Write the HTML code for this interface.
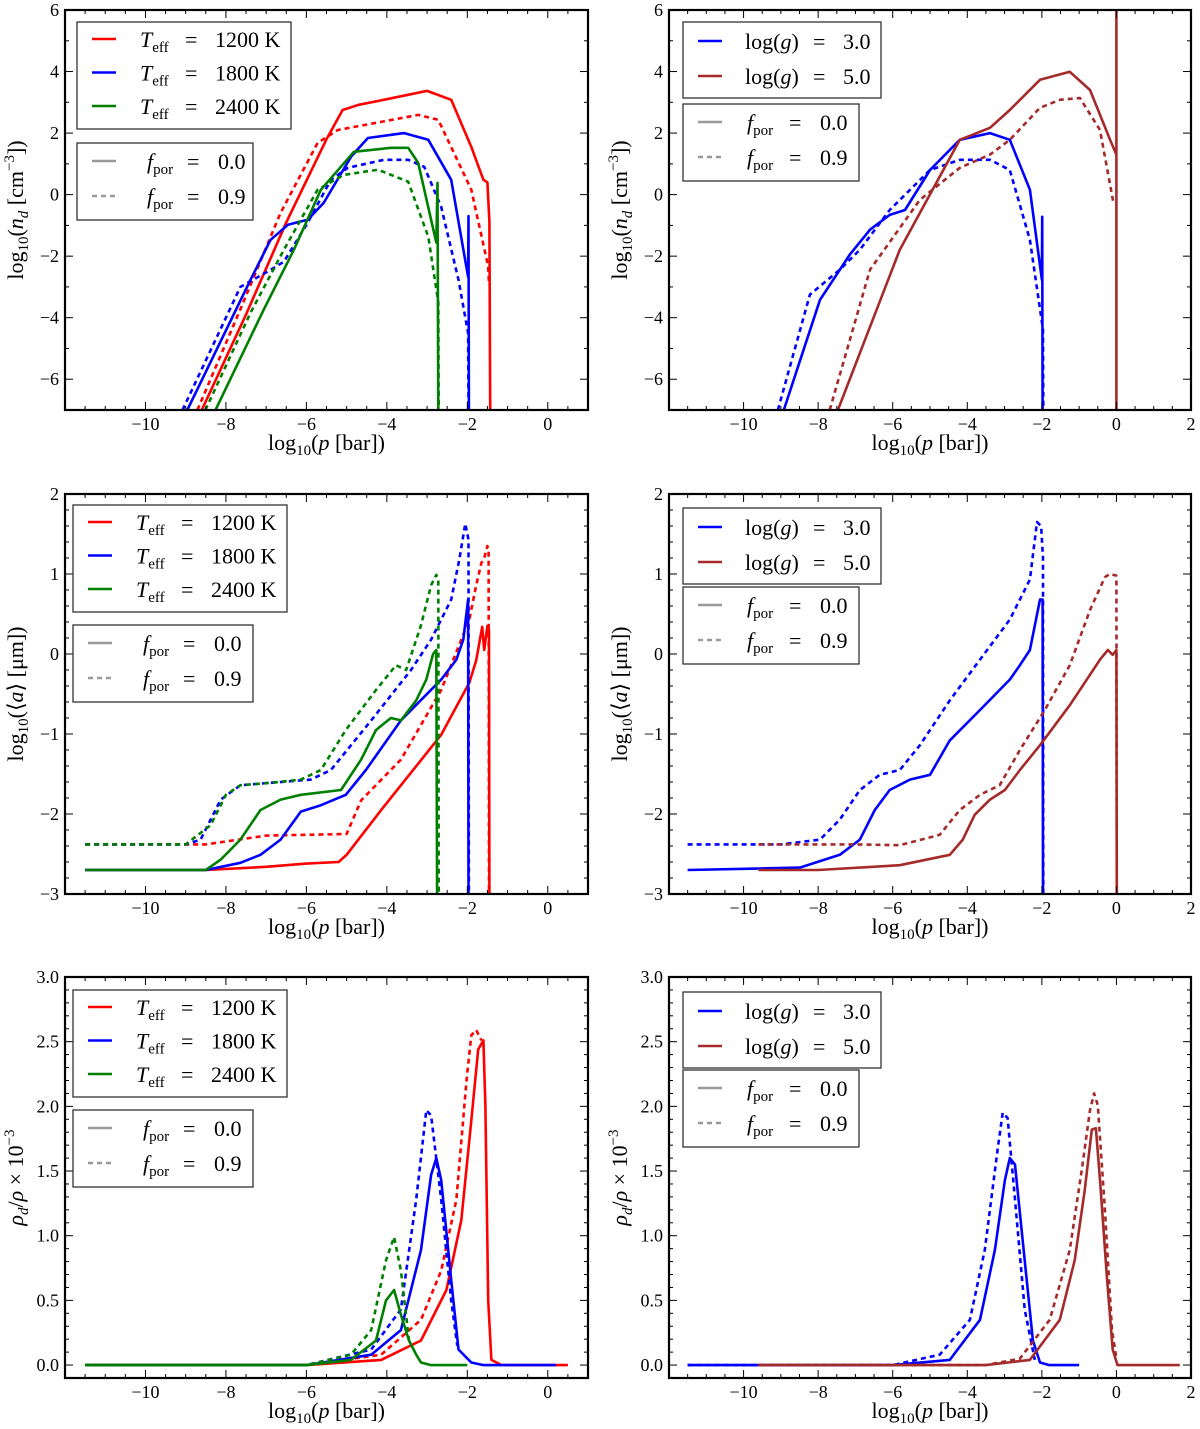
<!DOCTYPE html>
<html><head><meta charset="utf-8"><style>
html,body{margin:0;padding:0;background:#fff}
svg{display:block;font-family:"Liberation Serif","DejaVu Serif",serif}
</style></head><body>
<svg id="fig" width="1200" height="1429" viewBox="0 0 1200 1429" xmlns="http://www.w3.org/2000/svg"></svg>
<script>
// ---------- DATA (log10 p [bar], value) ----------
const ndT1200Solid=[[-8.6,-7],[-7.5,-3.9],[-6.5,-0.9],[-5.5,1.8],[-5.1,2.75],[-4.7,2.92],[-4,3.1],[-3,3.37],[-2.4,3.08],[-1.9,1.55],[-1.6,0.48],[-1.5,0.4],[-1.45,-0.88],[-1.43,-7]];
const ndT1200Dash=[[-8.71,-7],[-7.6,-3.6],[-6.64,-0.59],[-5.72,1.68],[-5.22,2.1],[-4.2,2.35],[-3.22,2.59],[-2.72,2.43],[-1.9,0.16],[-1.48,-2.34],[-1.46,-2.9]];
const ndT1800Solid=[[-8.96,-7],[-7.39,-2.77],[-6.89,-1.47],[-6.46,-0.98],[-5.97,-0.82],[-5.57,-0.27],[-4.89,1.23],[-4.47,1.84],[-3.57,2.0],[-2.97,1.78],[-2.4,0.48],[-1.98,-2.67],[-1.97,-0.7],[-1.96,-7]];
const ndT1800Dash=[[-9.08,-7],[-7.64,-3.0],[-6.96,-2.5],[-6.56,-2.18],[-5.97,-0.92],[-5.39,0.48],[-4.97,0.87],[-4.07,1.13],[-3.47,1.13],[-3.07,0.9],[-2.65,-0.4],[-2.22,-2.77],[-1.98,-4.5],[-1.97,-7]];
const ndT2400Solid=[[-8.26,-7],[-7.06,-3.74],[-6.31,-1.79],[-5.64,0.16],[-4.82,1.39],[-3.9,1.52],[-3.47,1.52],[-3.22,1.03],[-2.77,-1.56],[-2.74,0.38],[-2.72,-7]];
const ndT2400Dash=[[-8.51,-7],[-7.39,-3.84],[-6.56,-1.79],[-5.72,0.16],[-5.07,0.64],[-4.22,0.81],[-3.47,0.42],[-2.97,-1.37],[-2.72,-3.5],[-2.71,-7]];
const ndG3Solid=[[-8.92,-7],[-7.95,-3.42],[-7.15,-1.95],[-6.61,-1.14],[-6.08,-0.66],[-5.67,-0.5],[-5.0,0.8],[-4.2,1.78],[-3.39,2.0],[-2.86,1.78],[-2.32,0.16],[-2.0,-2.77],[-1.99,-0.72],[-1.98,-7]];
const ndG3Dash=[[-9.08,-7],[-8.22,-3.25],[-7.42,-2.44],[-6.88,-1.79],[-6.08,-0.5],[-5.0,0.8],[-4.2,1.13],[-3.39,1.13],[-2.86,0.8],[-2.32,-1.47],[-1.97,-4.39],[-1.96,-7]];
const ndG5Solid=[[-7.47,-7],[-5.81,-1.79],[-4.2,1.78],[-3.39,2.17],[-2.86,2.75],[-2.05,3.73],[-1.25,3.99],[-0.71,3.4],[-0.17,1.78],[0,1.3],[0,6],[0,-7]];
const ndG5Dash=[[-7.69,-7],[-6.61,-2.44],[-5.27,-0.17],[-4.2,0.87],[-3.39,1.3],[-2.86,1.78],[-2.05,2.82],[-1.52,3.08],[-0.98,3.14],[-0.44,2.1],[-0.07,-0.33]];
const aT1200Solid=[[-11.5,-2.7],[-8.5,-2.7],[-7,-2.66],[-6,-2.62],[-5.2,-2.6],[-5.0,-2.51],[-4.14,-1.95],[-2.65,-1.01],[-1.95,-0.36],[-1.78,-0.08],[-1.63,0.34],[-1.58,0.05],[-1.5,0.35],[-1.46,0.3],[-1.45,-3]];
const aT1200Dash=[[-11.5,-2.38],[-8.5,-2.38],[-7,-2.27],[-5.0,-2.25],[-4.64,-1.83],[-3.65,-1.32],[-2.65,-0.45],[-1.95,0.43],[-1.78,0.86],[-1.65,1.14],[-1.58,1.2],[-1.5,1.35],[-1.47,1.3],[-1.46,-3]];
const aT1800Solid=[[-11.5,-2.7],[-8.5,-2.7],[-7.64,-2.61],[-7.14,-2.51],[-6.64,-2.32],[-6.14,-1.97],[-5.64,-1.89],[-5.02,-1.76],[-4.52,-1.45],[-3.65,-0.83],[-2.65,-0.32],[-2.27,-0.07],[-2.1,0.18],[-1.98,0.68],[-1.97,-3]];
const aT1800Dash=[[-11.5,-2.38],[-9,-2.38],[-8.63,-2.32],[-8.13,-1.82],[-7.64,-1.64],[-6.89,-1.61],[-5.89,-1.57],[-5.39,-1.45],[-4.39,-0.83],[-3.4,-0.2],[-2.9,0.18],[-2.4,0.68],[-2.2,1.18],[-2.05,1.63],[-1.97,1.43],[-1.96,-3]];
const aT2400Solid=[[-11.5,-2.7],[-8.5,-2.7],[-8.13,-2.57],[-7.64,-2.32],[-7.14,-1.95],[-6.64,-1.82],[-6.14,-1.76],[-5.14,-1.7],[-4.64,-1.32],[-4.27,-0.95],[-3.9,-0.8],[-3.65,-0.83],[-3.27,-0.58],[-3.02,-0.32],[-2.85,0],[-2.77,0.05],[-2.75,-3]];
const aT2400Dash=[[-11.5,-2.38],[-9,-2.38],[-8.38,-2.14],[-8.0,-1.76],[-7.64,-1.64],[-6.89,-1.61],[-6.14,-1.57],[-5.64,-1.45],[-5.02,-0.95],[-4.27,-0.45],[-3.77,-0.14],[-3.52,-0.2],[-3.15,0.36],[-2.9,0.86],[-2.77,0.99],[-2.72,0.92],[-2.71,-3]];
const aG3Solid=[[-11.5,-2.7],[-8.49,-2.67],[-7.42,-2.51],[-6.88,-2.32],[-6.48,-1.95],[-6.08,-1.7],[-5.54,-1.57],[-5.0,-1.51],[-4.47,-1.08],[-3.66,-0.7],[-2.86,-0.32],[-2.59,-0.14],[-2.32,0.05],[-2.05,0.68],[-1.98,0.68],[-1.97,-3]];
const aG3Dash=[[-11.5,-2.38],[-9,-2.38],[-7.95,-2.32],[-7.42,-2.07],[-6.88,-1.7],[-6.35,-1.51],[-5.81,-1.45],[-5.27,-1.14],[-4.47,-0.58],[-3.66,-0.07],[-2.86,0.43],[-2.32,0.93],[-2.13,1.65],[-2.02,1.6],[-1.97,1.2],[-1.96,-3]];
const aG5Solid=[[-9.6,-2.7],[-8,-2.7],[-5.81,-2.64],[-4.47,-2.51],[-4.12,-2.32],[-3.8,-2.01],[-3.39,-1.82],[-2.99,-1.7],[-2.59,-1.45],[-2.05,-1.14],[-1.25,-0.64],[-0.44,-0.07],[-0.23,0.05],[-0.1,-0.01],[0,0.05],[0.01,-3]];
const aG5Dash=[[-9.6,-2.38],[-7,-2.38],[-5.81,-2.39],[-4.74,-2.26],[-4.2,-1.95],[-3.66,-1.76],[-3.13,-1.64],[-2.59,-1.2],[-1.92,-0.7],[-1.25,-0.14],[-0.71,0.55],[-0.31,0.96],[-0.18,1.0],[0,0.98],[0.01,-3]];
const rT1200Solid=[[-11.5,0],[-6,0],[-4.14,0.04],[-3.15,0.19],[-2.52,0.58],[-2.15,1.12],[-1.9,1.89],[-1.73,2.44],[-1.6,2.51],[-1.55,2.0],[-1.48,0.5],[-1.4,0.04],[-1.15,0],[0.5,0]];
const rT1200Dash=[[-11.5,0],[-6,0],[-4.14,0.08],[-3.15,0.35],[-2.65,0.73],[-2.27,1.28],[-2.02,2.2],[-1.9,2.55],[-1.78,2.59],[-1.65,2.51]];
const rT1800Solid=[[-11.5,0],[-6,0],[-4.39,0.08],[-3.65,0.27],[-3.15,0.89],[-2.9,1.47],[-2.77,1.6],[-2.65,1.43],[-2.4,0.66],[-2.22,0.12],[-1.9,0.02],[-1.6,0],[0.2,0]];
const rT1800Dash=[[-11.5,0],[-6,0],[-4.39,0.12],[-3.65,0.43],[-3.27,1.28],[-3.02,1.97],[-2.9,1.93],[-2.65,1.28],[-2.4,0.5],[-2.25,0.15]];
const rT2400Solid=[[-11.5,0],[-6,0],[-4.89,0.04],[-4.27,0.19],[-4.02,0.5],[-3.82,0.58],[-3.65,0.39],[-3.45,0.19],[-3.27,0.08],[-3.15,0.02],[-2.9,0],[-2,0]];
const rT2400Dash=[[-11.5,0],[-6,0],[-4.89,0.08],[-4.39,0.27],[-4.02,0.81],[-3.82,0.99],[-3.65,0.73],[-3.45,0.19]];
const rG3Solid=[[-11.5,0],[-6,0],[-4.47,0.04],[-3.66,0.35],[-3.26,0.89],[-2.99,1.43],[-2.86,1.6],[-2.72,1.55],[-2.46,0.81],[-2.24,0.19],[-2.05,0.02],[-1.8,0],[-1,0]];
const rG3Dash=[[-11.5,0],[-6,0],[-4.74,0.08],[-3.93,0.35],[-3.53,0.89],[-3.19,1.66],[-3.05,1.95],[-2.92,1.91],[-2.72,1.28],[-2.46,0.43],[-2.19,0.04]];
const rG5Solid=[[-9.6,0],[-3.5,0],[-2.32,0.04],[-1.52,0.35],[-1.12,0.81],[-0.85,1.35],[-0.66,1.82],[-0.55,1.83],[-0.44,1.43],[-0.25,0.66],[-0.1,0.12],[0.03,0],[1.7,0]];
const rG5Dash=[[-9.6,0],[-3.5,0],[-2.59,0.05],[-1.79,0.35],[-1.25,0.89],[-0.93,1.51],[-0.71,1.97],[-0.6,2.1],[-0.5,2.01],[-0.31,1.2],[-0.12,0.27],[0,0.05]];
const xTicksLeft=[-10,-8,-6,-4,-2,0];
const xTicksRight=[-10,-8,-6,-4,-2,0,2];
const yTicksNd=[-6,-4,-2,0,2,4,6];
const yTicksA=[-3,-2,-1,0,1,2];
const yTicksR=[0.0,0.5,1.0,1.5,2.0,2.5,3.0];
const tempLabels=["1200 K","1800 K","2400 K"];
const gravLabels=["3.0","5.0"];
const porLabels=["0.0","0.9"];

// ---------- DRAWING ----------
const NS="http://www.w3.org/2000/svg";
const svg=document.getElementById('fig');
function mk(tag,attrs,parent){const e=document.createElementNS(NS,tag);for(const k in attrs)e.setAttribute(k,attrs[k]);(parent||svg).appendChild(e);return e;}
const RED="#ff0000",BLUE="#0000ff",GREEN="#008000",BROWN="#a52a2a",GREY="#999999";
function fmt(v){return (v<0?"\u2212":"")+String(Math.abs(v));}

function panel(cfg){
  const g=mk('g',{});
  
  
  const X=v=>cfg.x0+(v-cfg.xmin)/(cfg.xmax-cfg.xmin)*(cfg.x1-cfg.x0);
  const Y=v=>cfg.y1-(v-cfg.ymin)/(cfg.ymax-cfg.ymin)*(cfg.y1-cfg.y0);
  const clip='clip-'+cfg.name;
  const cp=mk('clipPath',{id:clip},g);mk('rect',{x:cfg.x0,y:cfg.y0,width:cfg.x1-cfg.x0,height:cfg.y1-cfg.y0},cp);
  const sg=mk('g',{'clip-path':'url(#'+clip+')'},g);
  cfg.series.forEach(s=>{
    const d=s.data.map((p,i)=>(i?'L':'M')+X(p[0]).toFixed(1)+' '+Y(p[1]).toFixed(1)).join(' ');
    const p=mk('path',{d:d,fill:'none',stroke:s.color,'stroke-width':2.6,'stroke-linejoin':'round'},sg);
    if(s.dash)p.setAttribute('stroke-dasharray','5,4');
    
    
  });
  const tg=mk('g',{stroke:'#000','stroke-width':1},g);
  
  
  for(let v=Math.ceil(cfg.xmin/cfg.xminor)*cfg.xminor;v<=cfg.xmax+1e-9;v+=cfg.xminor){
    const major=Math.abs(v/cfg.xmajor-Math.round(v/cfg.xmajor))<1e-6;const L=major?8:4;const x=X(v);
    mk('line',{x1:x,x2:x,y1:cfg.y1,y2:cfg.y1-L},tg);mk('line',{x1:x,x2:x,y1:cfg.y0,y2:cfg.y0+L},tg);
  }
  for(let v=cfg.ymin;v<=cfg.ymax+1e-9;v+=cfg.yminor){
    const major=Math.abs(v/cfg.ymajor-Math.round(v/cfg.ymajor))<1e-6;const L=major?8:4;const y=Y(v);
    mk('line',{x1:cfg.x0,x2:cfg.x0+L,y1:y,y2:y},tg);mk('line',{x1:cfg.x1,x2:cfg.x1-L,y1:y,y2:y},tg);
  }
  const fr=mk('rect',{x:cfg.x0,y:cfg.y0,width:cfg.x1-cfg.x0,height:cfg.y1-cfg.y0,fill:'none',stroke:'#000','stroke-width':2.2},g);
  
  
  cfg.xticks.forEach(v=>{
    const t=mk('text',{x:X(v),y:cfg.y1+20,'font-size':18,'text-anchor':'middle'},g);t.textContent=fmt(v);
    
    
  });
  cfg.yticks.forEach(v=>{
    const t=mk('text',{x:cfg.x0-6,y:Y(v)+6,'font-size':18,'text-anchor':'end'},g);t.textContent=cfg.yfmt(v);
    
    
  });
  const xl=mk('text',{x:(cfg.x0+cfg.x1)/2,y:cfg.y1+40,'font-size':22,'text-anchor':'middle'},g);
  xl.innerHTML='log<tspan font-size="15" dy="5">10</tspan><tspan dy="-5">(</tspan><tspan font-style="italic">p</tspan> [bar])';
  
  
  const yl=mk('text',{x:0,y:0,'font-size':22,'text-anchor':'middle',transform:'translate('+(cfg.x0-42)+','+((cfg.y0+cfg.y1)/2)+') rotate(-90)'},g);
  yl.innerHTML=cfg.ylabel;
  
  
  cfg.legends.forEach(L=>{
    const lg=mk('g',{},g);
    
    
    mk('rect',{x:L.x,y:L.y,width:L.w,height:L.h,fill:'#fff',stroke:'#333','stroke-width':1.3},lg);
    L.entries.forEach((e,i)=>{
      const ey=L.y+L.first+i*L.step;
      const ln=mk('line',{x1:L.x+15,x2:L.x+39,y1:ey,y2:ey,stroke:e.color,'stroke-width':2.6},lg);
      if(e.dash)ln.setAttribute('stroke-dasharray','5,4');
      
      
      const t=mk('text',{x:L.x+L.tx,y:ey+8,'font-size':22},lg);
      t.innerHTML=e.label;
      
      
      const eq=mk('text',{x:L.x+L.eqx,y:ey+8,'font-size':22},lg);
      eq.textContent='=';
      
      
      const vv=mk('text',{x:L.x+L.eqx+L.vdx,y:ey+8,'font-size':22},lg);
      vv.textContent=e.value;
      
      
    });
  });
}
const teffLbl='<tspan font-style="italic">T</tspan><tspan font-size="15" dy="5">eff</tspan>';
const porLbl='<tspan font-style="italic">f</tspan><tspan font-size="15" dy="5">por</tspan>';
const gLbl='log(<tspan font-style="italic">g</tspan>)';
function tempLegend(x,y){return {name:'legend-teff',x:x,y:y,w:214,h:107,first:17,step:33.5,tx:63,eqx:108,vdx:30,entries:[
  {color:RED,label:teffLbl,value:tempLabels[0]},{color:BLUE,label:teffLbl,value:tempLabels[1]},{color:GREEN,label:teffLbl,value:tempLabels[2]}]};}
function porLegend(x,y,w){return {name:'legend-porosity',x:x,y:y,w:w||180,h:77,first:18,step:35,tx:70,eqx:110,vdx:31,entries:[
  {color:GREY,label:porLbl,value:porLabels[0]},{color:GREY,dash:true,label:porLbl,value:porLabels[1]}]};}
function gLegend(x,y){return {name:'legend-gravity',x:x,y:y,w:198,h:76,first:19,step:35,tx:62,eqx:130,vdx:30,entries:[
  {color:BLUE,label:gLbl,value:gravLabels[0]},{color:BROWN,label:gLbl,value:gravLabels[1]}]};}
function gp(x,y){const l=porLegend(x,y,176);l.tx=64;l.eqx=106;return l;}

const L={x0:65,x1:588,xmin:-12,xmax:1,xmajor:2,xminor:0.5,xticks:xTicksLeft};
const R={x0:669,x1:1191,xmin:-12,xmax:2,xmajor:2,xminor:0.5,xticks:xTicksRight};
const ndLabel='log<tspan font-size="15" dy="5">10</tspan><tspan dy="-5">(</tspan><tspan font-style="italic">n</tspan><tspan font-size="15" font-style="italic" dy="5">d</tspan><tspan dy="-5"> [cm</tspan><tspan font-size="15" dy="-9">\u22123</tspan><tspan dy="9">])</tspan>';
const aLabel='log<tspan font-size="15" dy="5">10</tspan><tspan dy="-5">(\u27E8</tspan><tspan font-style="italic">a</tspan>\u27E9 [\u03BCm])';
const rLabel='<tspan font-style="italic">\u03C1</tspan><tspan font-size="15" font-style="italic" dy="5">d</tspan><tspan dy="-5">/</tspan><tspan font-style="italic">\u03C1</tspan> \u00D7 10<tspan font-size="15" dy="-9">\u22123</tspan>';
const intF=v=>fmt(v), decF=v=>v.toFixed(1);
const ndY={y0:10,y1:410,ymin:-7,ymax:6,ymajor:2,yminor:1,yticks:yTicksNd,yfmt:intF,ylabel:ndLabel};
const aY={y0:494,y1:894,ymin:-3,ymax:2,ymajor:1,yminor:0.2,yticks:yTicksA,yfmt:intF,ylabel:aLabel};
const rY={y0:977,y1:1378,ymin:-0.1,ymax:3.0,ymajor:0.5,yminor:0.1,yticks:yTicksR,yfmt:decF,ylabel:rLabel};
function tser(s12,d12,s18,d18,s24,d24){return [
  {sname:'line-1200-fpor0',color:RED,data:s12},{sname:'line-1200-fpor09',color:RED,dash:true,data:d12},
  {sname:'line-1800-fpor0',color:BLUE,data:s18},{sname:'line-1800-fpor09',color:BLUE,dash:true,data:d18},
  {sname:'line-2400-fpor0',color:GREEN,data:s24},{sname:'line-2400-fpor09',color:GREEN,dash:true,data:d24}];}
function gser(s3,d3,s5,d5){return [
  {sname:'line-logg3-fpor0',color:BLUE,data:s3},{sname:'line-logg3-fpor09',color:BLUE,dash:true,data:d3},
  {sname:'line-logg5-fpor0',color:BROWN,data:s5},{sname:'line-logg5-fpor09',color:BROWN,dash:true,data:d5}];}

panel(Object.assign({name:'panel-nd-teff'},L,ndY,{series:tser(ndT1200Solid,ndT1200Dash,ndT1800Solid,ndT1800Dash,ndT2400Solid,ndT2400Dash),legends:[tempLegend(77,22),porLegend(77,143,176)]}));
panel(Object.assign({name:'panel-nd-logg'},R,ndY,{series:gser(ndG3Solid,ndG3Dash,ndG5Solid,ndG5Dash),legends:[gLegend(683,22),gp(683,104)]}));
panel(Object.assign({name:'panel-a-teff'},L,aY,{series:tser(aT1200Solid,aT1200Dash,aT1800Solid,aT1800Dash,aT2400Solid,aT2400Dash),legends:[tempLegend(73,505),porLegend(73,625,180)]}));
panel(Object.assign({name:'panel-a-logg'},R,aY,{series:gser(aG3Solid,aG3Dash,aG5Solid,aG5Dash),legends:[gLegend(683,508),gp(683,587)]}));
panel(Object.assign({name:'panel-rho-teff'},L,rY,{series:tser(rT1200Solid,rT1200Dash,rT1800Solid,rT1800Dash,rT2400Solid,rT2400Dash),legends:[tempLegend(73,990),porLegend(73,1110,180)]}));
panel(Object.assign({name:'panel-rho-logg'},R,rY,{series:gser(rG3Solid,rG3Dash,rG5Solid,rG5Dash),legends:[gLegend(683,992),gp(683,1070)]}));
</script>
</body></html>
